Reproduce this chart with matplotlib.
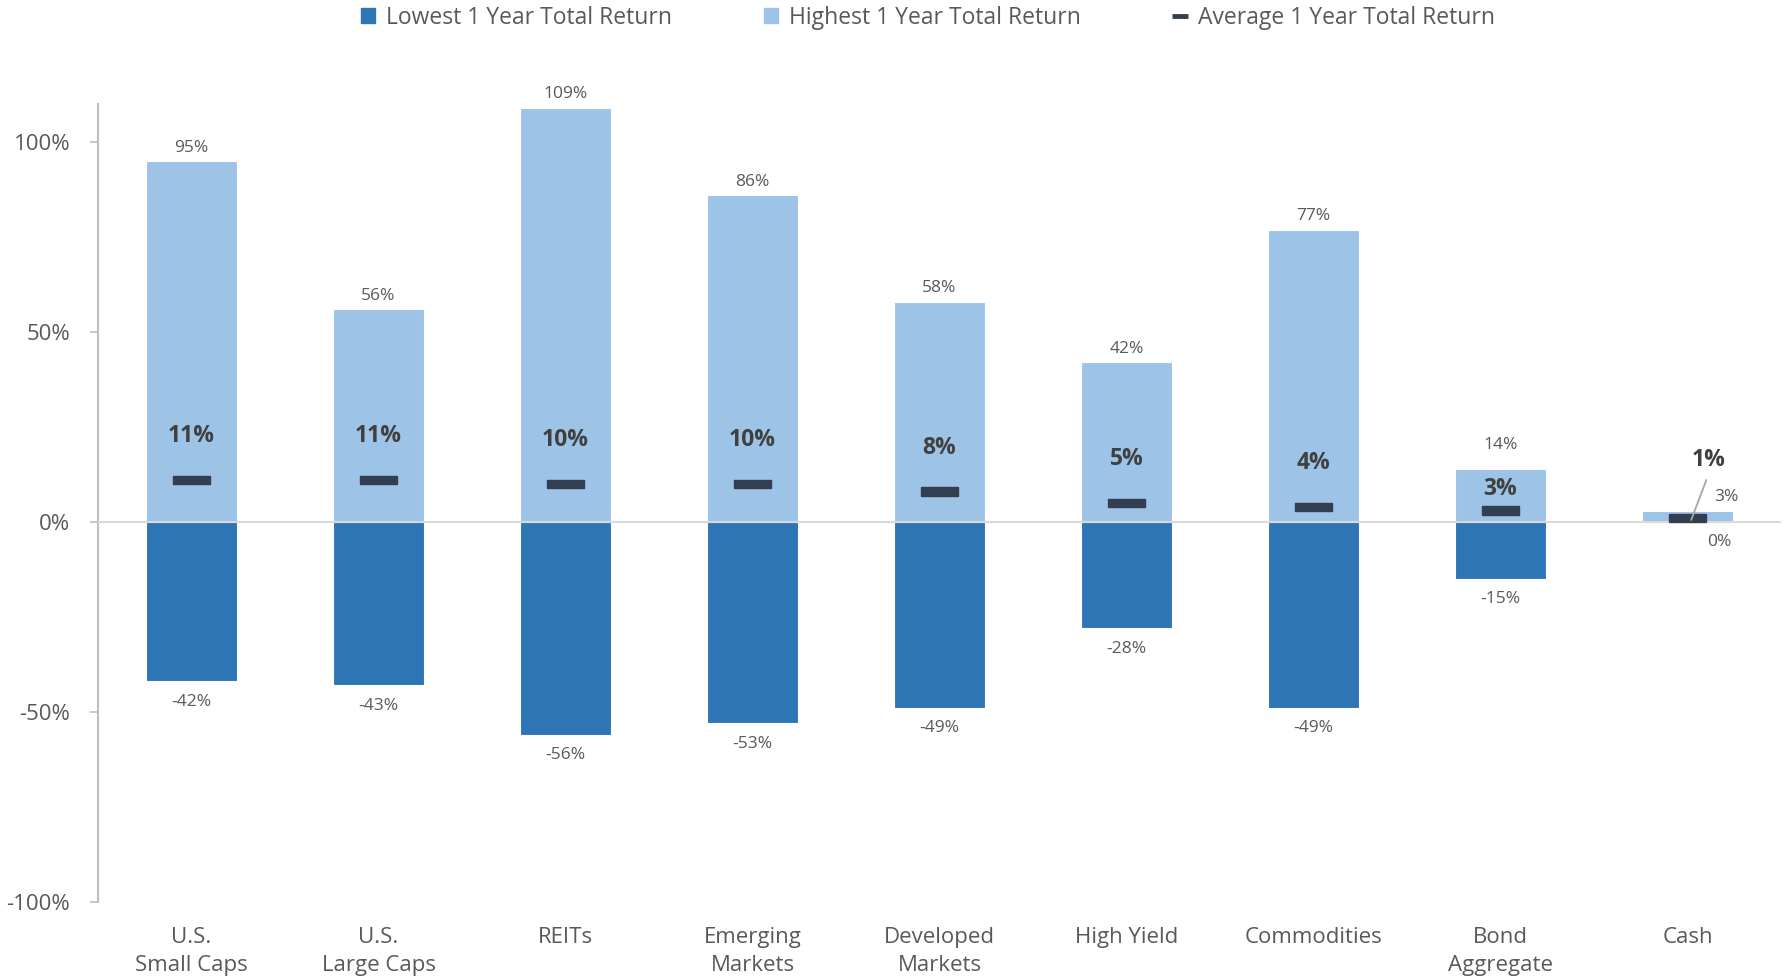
import matplotlib
matplotlib.use("Agg")
import matplotlib.pyplot as plt
from matplotlib.patches import Patch
from matplotlib.lines import Line2D

categories = ["U.S.\nSmall Caps", "U.S.\nLarge Caps", "REITs", "Emerging\nMarkets",
              "Developed\nMarkets", "High Yield", "Commodities", "Bond\nAggregate", "Cash"]
lowest = [-42, -43, -56, -53, -49, -28, -49, -15, 0]
highest = [95, 56, 109, 86, 58, 42, 77, 14, 3]
average = [11, 11, 10, 10, 8, 5, 4, 3, 1]
yticks = [-100, -50, 0, 50, 100]

DARK = "#2E75B6"
LIGHT = "#9DC3E6"
MARK = "#333F50"
TXT = "#595959"
FONT = "Open Sans"

plt.rcParams["font.family"] = [FONT, "DejaVu Sans"]

fig = plt.figure(figsize=(17.85, 9.77), dpi=100)
ax = fig.add_axes([0.0549, 0.0772, 0.9429, 0.816])

x = list(range(len(categories)))
w = 0.49
ax.bar(x, highest, width=w, color=LIGHT, edgecolor="white", linewidth=0.8, zorder=2)
ax.bar(x, lowest, width=w, color=DARK, edgecolor="white", linewidth=0.8, zorder=2)
ax.axhline(0, color="#D9D9D9", lw=1.5, zorder=3)

mw = 0.2
for i, a in enumerate(average):
    ax.add_patch(plt.Rectangle((i - mw / 2, a - 1.1), mw, 2.2, color=MARK, zorder=4))

n = len(categories)
for i in range(n):
    hi_off = 3.6
    avg_off = 11.6
    if i == n - 2:
        hi_off = 6.3
        avg_off = 5.8
    if i == n - 1:
        ax.text(i + 0.21, highest[i] + 3.6, f"{highest[i]}%", ha="center", va="center",
                fontsize=12.5, color=TXT)
        ax.text(i + 0.17, -5.4, f"{lowest[i]}%", ha="center", va="center",
                fontsize=12.5, color=TXT)
        ax.text(i + 0.11, 16.3, f"{average[i]}%", ha="center", va="center",
                fontsize=16.5, color="#404040", fontweight="bold")
        ax.plot([i + 0.02, i + 0.1], [0.6, 11.0], color="#A6A6A6", lw=1.3, zorder=5)
    else:
        ax.text(i, highest[i] + hi_off, f"{highest[i]}%", ha="center", va="center",
                fontsize=12.5, color=TXT)
        ax.text(i, lowest[i] - 5.4, f"{lowest[i]}%", ha="center", va="center",
                fontsize=12.5, color=TXT)
        ax.text(i, average[i] + avg_off, f"{average[i]}%", ha="center", va="center",
                fontsize=16.5, color="#404040", fontweight="bold")

ax.set_xlim(-0.5, n - 0.5)
ax.set_ylim(-100, 110)
ax.set_yticks(yticks)
ax.set_yticklabels([f"{t}%" for t in yticks], fontsize=16, color=TXT)
ax.set_xticks(x)
ax.set_xticklabels(categories, fontsize=16, color=TXT, linespacing=1.45)
ax.tick_params(axis="x", length=0, pad=18)
ax.tick_params(axis="y", length=6, color="#BFBFBF", width=1.2, pad=14)
for s in ["top", "right", "bottom"]:
    ax.spines[s].set_visible(False)
ax.spines["left"].set_color("#BFBFBF")
ax.spines["left"].set_linewidth(1.5)

handles = [
    Patch(facecolor=DARK, edgecolor=DARK),
    Patch(facecolor=LIGHT, edgecolor=LIGHT),
    Line2D([0], [0], color=MARK, marker="_", markersize=11, markeredgewidth=3.5, linestyle="none"),
]
labels = ["Lowest 1 Year Total Return", "Highest 1 Year Total Return", "Average 1 Year Total Return"]
leg = fig.legend(handles, labels, loc="center", bbox_to_anchor=(0.52, 0.982), ncol=3,
                 frameon=False, fontsize=16.5, handlelength=0.6, handleheight=0.6,
                 handletextpad=0.5, columnspacing=4.0)
for t in leg.get_texts():
    t.set_color(TXT)

fig.savefig("out.png", dpi=100)
